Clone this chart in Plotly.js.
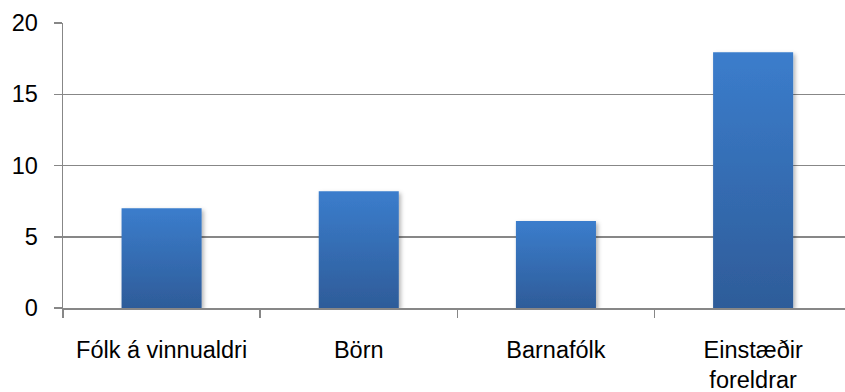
<!DOCTYPE html>
<html>
<head>
<meta charset="utf-8">
<script src="https://cdn.plot.ly/plotly-3.0.1.min.js"></script>
<style>
html,body{margin:0;padding:0;background:#fff;}
#chart{width:845px;height:392px;}
</style>
</head>
<body>
<div id="chart"></div>
<script>
var categories = ["Fólk á vinnualdri", "Börn", "Barnafólk", "Einstæðir<br>foreldrar"];
var values = [7.0, 8.2, 6.1, 17.95];
var yTickVals = [0, 5, 10, 15, 20];
var yTickText = ["0", "5", "10", "15", "20"];

var fontFam = "Liberation Sans, Arial, sans-serif";
var grey = "#878787";

var trace = {
  type: "bar",
  x: categories,
  y: values,
  marker: {color: "#3468b0", line: {width: 0}},
  hoverinfo: "x+y"
};

var layout = {
  width: 845,
  height: 392,
  margin: {l: 63, r: 0, t: 23, b: 84, pad: 0},
  paper_bgcolor: "#ffffff",
  plot_bgcolor: "#ffffff",
  showlegend: false,
  bargap: 0.594,
  font: {family: fontFam, size: 23.5, color: "#000000"},
  xaxis: {
    type: "category",
    range: [-0.5, 3.466],
    showline: true,
    linecolor: grey,
    linewidth: 1.5,
    ticks: "outside",
    tickson: "boundaries",
    ticklen: 8,
    tickcolor: grey,
    tickwidth: 1.5,
    showgrid: false,
    tickfont: {family: fontFam, size: 23.5, color: "#000000"},
    ticklabelstandoff: 20,
    fixedrange: true
  },
  yaxis: {
    range: [0, 20],
    tickvals: yTickVals,
    ticktext: yTickText,
    showline: true,
    linecolor: grey,
    linewidth: 1.5,
    ticks: "outside",
    ticklen: 8,
    tickcolor: grey,
    tickwidth: 1.5,
    showgrid: true,
    gridcolor: grey,
    gridwidth: 1.5,
    zeroline: false,
    tickfont: {family: fontFam, size: 23.5, color: "#000000"},
    ticklabelstandoff: 11,
    fixedrange: true
  }
};

Plotly.newPlot("chart", [trace], layout, {displayModeBar: false, staticPlot: true}).then(function(gd){
  var svg = gd.querySelector("svg.main-svg");
  var ns = "http://www.w3.org/2000/svg";
  var defs = svg.querySelector("defs") || svg.insertBefore(document.createElementNS(ns, "defs"), svg.firstChild);
  var grad = document.createElementNS(ns, "linearGradient");
  grad.setAttribute("id", "barGrad");
  grad.setAttribute("x1", "0"); grad.setAttribute("y1", "0");
  grad.setAttribute("x2", "0"); grad.setAttribute("y2", "1");
  var s1 = document.createElementNS(ns, "stop");
  s1.setAttribute("offset", "0"); s1.setAttribute("stop-color", "#3b7dcc");
  var s2 = document.createElementNS(ns, "stop");
  s2.setAttribute("offset", "1"); s2.setAttribute("stop-color", "#2e5c99");
  grad.appendChild(s1); grad.appendChild(s2);
  defs.appendChild(grad);
  var filt = document.createElementNS(ns, "filter");
  filt.setAttribute("id", "barShadow");
  filt.setAttribute("x", "-10%"); filt.setAttribute("y", "-10%");
  filt.setAttribute("width", "125%"); filt.setAttribute("height", "125%");
  var ds = document.createElementNS(ns, "feDropShadow");
  ds.setAttribute("dx", "2"); ds.setAttribute("dy", "2");
  ds.setAttribute("stdDeviation", "2");
  ds.setAttribute("flood-color", "#000"); ds.setAttribute("flood-opacity", "0.3");
  filt.appendChild(ds);
  defs.appendChild(filt);
  gd.querySelectorAll(".barlayer .point path").forEach(function(p){
    p.style.fill = "url(#barGrad)";
    p.setAttribute("filter", "url(#barShadow)");
  });
});
</script>
</body>
</html>
